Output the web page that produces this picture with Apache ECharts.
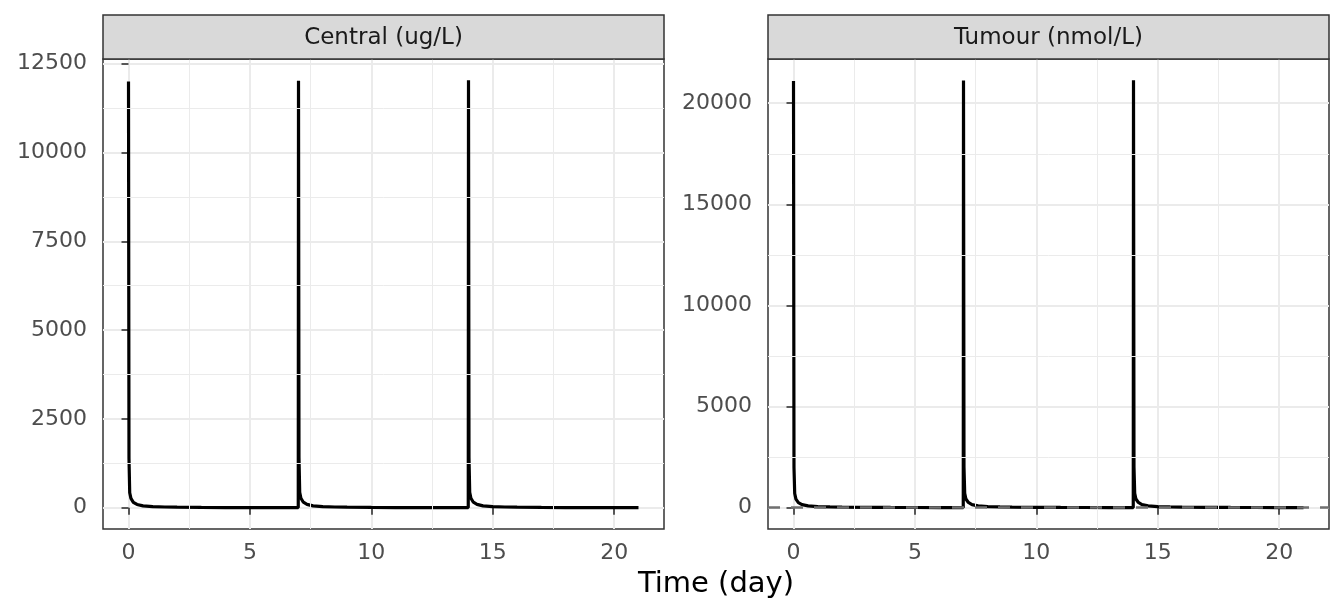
<!DOCTYPE html>
<html>
<head>
<meta charset="utf-8">
<script src="https://cdn.jsdelivr.net/npm/echarts@6/dist/echarts.min.js"></script>
<style>
  html, body { margin: 0; padding: 0; background: #fff; }
  #chart { width: 1344px; height: 614px; }
</style>
</head>
<body>
<div id="chart"></div>
<script>
// sampling times (day), three doses at 0, 7, 14
var time = [0, 0.02, 0.05, 0.1, 0.2, 0.35, 0.6, 1, 1.5, 2, 3, 4, 5, 6, 6.99,
  7, 7.02, 7.05, 7.1, 7.2, 7.35, 7.6, 8, 8.5, 9, 10, 11, 12, 13, 13.99,
  14, 14.02, 14.05, 14.1, 14.2, 14.35, 14.6, 15, 15.5, 16, 17, 18, 19, 20, 21];
// Central (ug/L)
var central = [12000, 1400, 420, 260, 150, 90, 50, 28, 18, 12, 6, 3, 2, 1, 0.5,
  12020, 1420, 430, 265, 152, 92, 51, 29, 18, 12, 6, 3, 2, 1, 0.5,
  12030, 1420, 430, 265, 152, 92, 51, 29, 18, 12, 6, 3, 2, 1, 0.5];
// Tumour (nmol/L)
var tumour = [21100, 2000, 700, 420, 250, 150, 85, 50, 35, 25, 15, 10, 7, 5, 4,
  21120, 2020, 710, 425, 255, 152, 87, 52, 36, 26, 16, 10, 7, 5, 4,
  21130, 2020, 710, 425, 255, 152, 87, 52, 36, 26, 16, 10, 7, 5, 4];
var panelTitles = ['Central (ug/L)', 'Tumour (nmol/L)'];
var xTicks = [0, 5, 10, 15, 20];
var xMinor = [2.5, 7.5, 12.5, 17.5];
var yTicksCentral = [0, 2500, 5000, 7500, 10000, 12500];
var yMinorCentral = [1250, 3750, 6250, 8750, 11250];
var yTicksTumour = [0, 5000, 10000, 15000, 20000];
var yMinorTumour = [2500, 7500, 12500, 17500];
var refLine = [0];

var chart = echarts.init(document.getElementById('chart'), null, {renderer: 'canvas'});

function pairs(xs, ys) {
  return xs.map(function (x, i) { return [x, ys[i]]; });
}
// ggplot-like 5% expansion
function expand(lo, hi) {
  var d = (hi - lo) * 0.05;
  return [lo - d, hi + d];
}
function plain(v) { return String(v); }

var xr = expand(Math.min.apply(null, time), Math.max.apply(null, time));
var yrC = expand(0, Math.max.apply(null, central));
var yrT = expand(0, Math.max.apply(null, tumour));

var gridTop = 59, gridH = 470;
var panels = [{left: 103, width: 561}, {left: 768, width: 561}];
var font = 'DejaVu Sans';

function xAxis(i) {
  return {
    type: 'value', gridIndex: i, min: xr[0], max: xr[1],
    axisLine: {show: false},
    axisTick: {show: true, length: 7, lineStyle: {color: '#333', width: 1.6}, customValues: xTicks},
    axisLabel: {color: '#4D4D4D', fontSize: 22, fontFamily: font, margin: 13,
      customValues: xTicks, formatter: plain},
    splitLine: {show: true, lineStyle: {color: '#EBEBEB', width: 2}}
  };
}
function yAxis(i, r, ticks) {
  return {
    type: 'value', gridIndex: i, min: r[0], max: r[1],
    axisLine: {show: false},
    axisTick: {show: true, length: 7, lineStyle: {color: '#333', width: 1.6}, customValues: ticks},
    axisLabel: {color: '#4D4D4D', fontSize: 22, fontFamily: font, margin: 16,
      padding: [5, 0, 0, 0], customValues: ticks, formatter: plain},
    splitLine: {show: true, lineStyle: {color: '#EBEBEB', width: 2}}
  };
}
function minorGrid(i, yMinor) {
  var d = xMinor.map(function (v) { return {xAxis: v}; })
    .concat(yMinor.map(function (v) { return {yAxis: v}; }));
  return {
    type: 'line', xAxisIndex: i, yAxisIndex: i, data: [], z: 1, silent: true,
    markLine: {
      silent: true, symbol: ['none', 'none'], label: {show: false},
      lineStyle: {color: '#EBEBEB', width: 1, type: 'solid'},
      emphasis: {disabled: true}, animation: false, data: d
    }
  };
}

var graphics = [];
panels.forEach(function (p, i) {
  graphics.push({
    type: 'rect', shape: {x: p.left, y: 15, width: p.width, height: gridTop - 15},
    style: {fill: '#D9D9D9', stroke: '#333', lineWidth: 1.5}, z: 10
  });
  graphics.push({
    type: 'text', x: p.left + p.width / 2, y: (15 + gridTop) / 2 + 1, z: 11,
    style: {text: panelTitles[i], fill: '#1A1A1A', fontSize: 23, fontFamily: font,
      align: 'center', verticalAlign: 'middle'}
  });
});
graphics.push({
  type: 'text', x: (panels[0].left + panels[1].left + panels[1].width) / 2, y: 584,
  style: {text: 'Time (day)', fill: '#000', fontSize: 29, fontFamily: font,
    align: 'center', verticalAlign: 'middle'}
});

chart.setOption({
  animation: false,
  backgroundColor: '#fff',
  grid: panels.map(function (p) {
    return {left: p.left, width: p.width, top: gridTop, height: gridH,
      show: true, backgroundColor: '#fff', borderColor: '#333', borderWidth: 1.5};
  }),
  xAxis: [xAxis(0), xAxis(1)],
  yAxis: [yAxis(0, yrC, yTicksCentral), yAxis(1, yrT, yTicksTumour)],
  graphic: graphics,
  series: [
    minorGrid(0, yMinorCentral),
    minorGrid(1, yMinorTumour),
    {
      type: 'line', xAxisIndex: 0, yAxisIndex: 0, data: pairs(time, central),
      showSymbol: false, symbol: 'none', z: 3, clip: true,
      lineStyle: {color: '#000', width: 3.2}
    },
    {
      type: 'line', xAxisIndex: 1, yAxisIndex: 1, data: pairs(time, tumour),
      showSymbol: false, symbol: 'none', z: 3, clip: true,
      lineStyle: {color: '#000', width: 3.2}
    },
    {
      type: 'line', xAxisIndex: 1, yAxisIndex: 1, data: [], z: 4, silent: true,
      markLine: {
        silent: true, symbol: ['none', 'none'], label: {show: false},
        lineStyle: {color: '#707070', width: 2.6, type: [12, 11]},
        emphasis: {disabled: true}, animation: false,
        data: refLine.map(function (v) { return {yAxis: v}; })
      }
    }
  ]
});
</script>
</body>
</html>
